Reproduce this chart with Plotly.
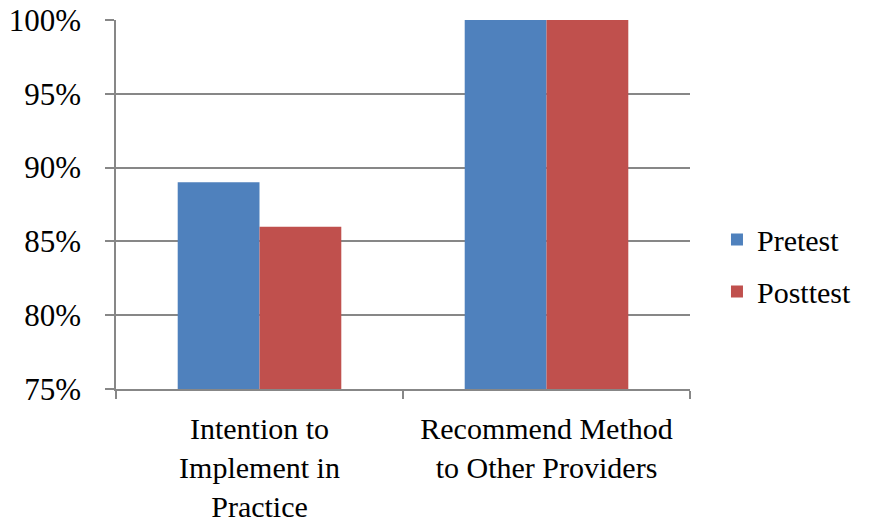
import plotly.graph_objects as go

categories = ["Intention to<br>Implement in<br>Practice", "Recommend Method<br>to Other Providers"]
pretest = [0.89, 1.00]
posttest = [0.86, 1.00]
y_ticks = [0.75, 0.80, 0.85, 0.90, 0.95, 1.00]
y_tick_labels = ["75%", "80%", "85%", "90%", "95%", "100%"]

FONT = "Liberation Serif"
GRID = "#878787"

fig = go.Figure()
fig.add_trace(go.Bar(name="Pretest", x=categories, y=pretest, marker_color="#4F81BD",
                     marker_line_width=0, legendgroup="a"))
fig.add_trace(go.Bar(name="Posttest", x=categories, y=posttest, marker_color="#C0504D",
                     marker_line_width=0, legendgroup="b"))

fig.update_layout(
    width=870, height=523,
    margin=dict(l=116, r=180, t=20, b=134, autoexpand=False),
    paper_bgcolor="white", plot_bgcolor="white",
    font=dict(family=FONT, size=30, color="black"),
    barmode="group", bargap=0.43, bargroupgap=0,
    showlegend=True,
    legend=dict(x=1.047, y=0.335, xanchor="left", yanchor="middle",
                font=dict(family=FONT, size=30, color="black"),
                tracegroupgap=10, itemwidth=30, traceorder="grouped"),
    xaxis=dict(showline=True, linecolor=GRID, linewidth=1.5, automargin=False, tickangle=0,
               ticks="outside", tickson="boundaries", ticklen=8, tickcolor=GRID, tickwidth=1.5,
               tickfont=dict(family=FONT, size=30, color="black"), showgrid=False,
               ticklabelstandoff=12),
    yaxis=dict(range=[0.75, 1.0], tickvals=y_ticks, ticktext=y_tick_labels, automargin=False,
               showline=True, linecolor=GRID, linewidth=1.5,
               ticks="outside", ticklen=9, tickcolor=GRID, tickwidth=1.5,
               showgrid=True, gridcolor=GRID, gridwidth=1.5,
               tickfont=dict(family=FONT, size=31, color="black"),
               ticklabelstandoff=18, zeroline=False),
)
fig.write_html("out.html")
